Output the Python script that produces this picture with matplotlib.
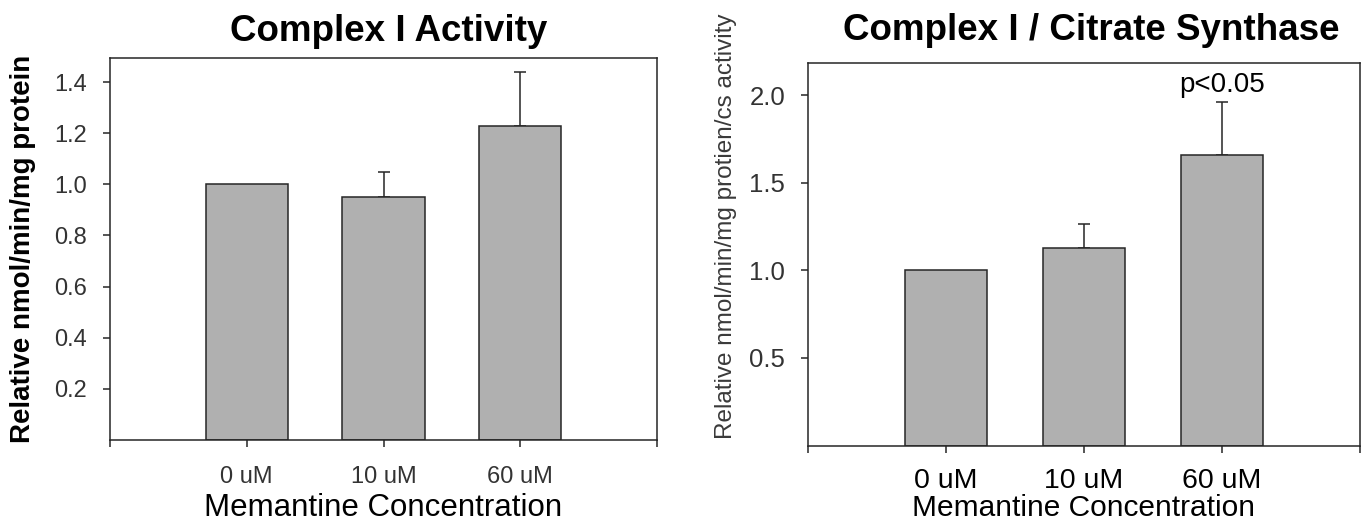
import matplotlib.pyplot as plt

plt.rcParams['font.family'] = ['Liberation Sans', 'DejaVu Sans']

doses = ['0 uM', '10 uM', '60 uM']
positions = [1, 2, 3]

# complex I activity, relative to the 0 uM control
activity = [1.00, 0.95, 1.23]
activity_err = [0.0, 0.10, 0.21]

# complex I normalised to citrate synthase activity
ratio = [1.00, 1.13, 1.66]
ratio_err = [0.0, 0.135, 0.30]

left_yticks = [0.2, 0.4, 0.6, 0.8, 1.0, 1.2, 1.4]
right_yticks = [0.5, 1.0, 1.5, 2.0]

bar_color = '#b0b0b0'
edge = '#262626'
tick_grey = '#333333'

fig = plt.figure(figsize=(13.61, 5.29), dpi=100)
ax1 = fig.add_axes([110 / 1361, 89 / 529, 547 / 1361, 382 / 529])
ax2 = fig.add_axes([808 / 1361, 83.5 / 529, 552 / 1361, 382.8 / 529])


def draw_bars(ax, vals, errs):
    ax.bar(positions, vals, width=0.6, color=bar_color, edgecolor=edge,
           linewidth=1.1, zorder=2)
    for x, v, e in zip(positions, vals, errs):
        if e > 0:
            ax.errorbar(x, v, yerr=[[0], [e]], fmt='none', ecolor=edge,
                        elinewidth=1.1, capsize=4, capthick=1.1, zorder=1)
    ax.set_xlim(0, 4)
    ax.set_xticks([0, 1, 2, 3, 4])
    ax.set_xticklabels([''] + doses + [''])
    for s in ax.spines.values():
        s.set_color(edge)
        s.set_linewidth(1.1)
    ax.tick_params(direction='out', length=5, width=1.1, color=edge)
    ax.tick_params(axis='y', pad=11.5, labelcolor=tick_grey)


# left panel
draw_bars(ax1, activity, activity_err)
ax1.set_ylim(0, 1.494)
ax1.set_yticks(left_yticks)
ax1.set_yticklabels([f'{t:.1f}' for t in left_yticks])
ax1.tick_params(axis='y', labelsize=17)
ax1.tick_params(axis='x', labelsize=17, pad=14, labelcolor=tick_grey)
ax1.set_title('Complex I Activity', fontsize=26.5, fontweight='bold',
              pad=12, x=0.51)
ax1.set_ylabel('Relative nmol/min/mg protein', fontsize=20, fontweight='bold')
ax1.yaxis.set_label_coords(-0.135, 0.5)
ax1.set_xlabel('Memantine Concentration', fontsize=22.5, labelpad=3)

# right panel
draw_bars(ax2, ratio, ratio_err)
ax2.set_ylim(0, 2.185)
ax2.set_yticks(right_yticks)
ax2.set_yticklabels([f'{t:.1f}' for t in right_yticks])
ax2.tick_params(axis='y', labelsize=18.5)
ax2.tick_params(axis='x', labelsize=20.5, pad=11.5, labelcolor='black')
ax2.set_title('Complex I / Citrate Synthase', fontsize=26.5, fontweight='bold',
              pad=16, x=0.514)
ax2.set_ylabel('Relative nmol/min/mg protien/cs activity', fontsize=17.5,
               color='#3a3a3a')
ax2.yaxis.set_label_coords(-0.129, 0.572)
ax2.set_xlabel('Memantine Concentration', fontsize=21.5, labelpad=0)

ax2.annotate('p<0.05', xy=(3, ratio[2] + ratio_err[2]), xytext=(0, 7),
             textcoords='offset points', ha='center', va='baseline', fontsize=20)

fig.savefig('out.png', dpi=100)
